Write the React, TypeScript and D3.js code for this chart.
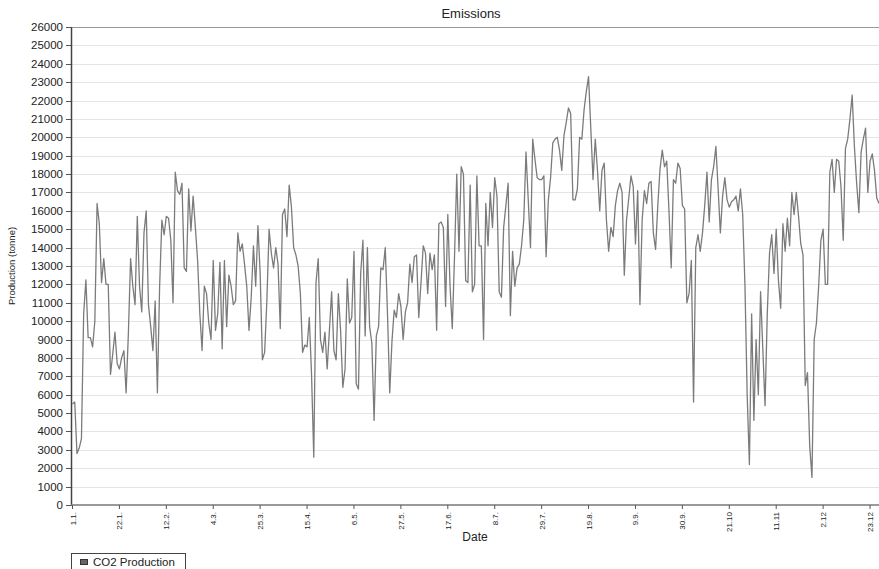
import React from "react";
import * as d3 from "d3";

const startDate = new Date(Date.UTC(2008, 0, 1));
const tickStepDays = 21;
const tickCount = 18;
const yTicks = d3.range(0, 26001, 1000);

// Daily CO2 production (tonne), from 1.1. onwards
const co2Production = [
  5500, 5600, 2800, 3100, 3600, 10400, 12250, 9100, 9100, 8600,
  10000, 16400, 15300, 12100, 13400, 12000, 12000, 7100, 8200, 9400,
  7700, 7400, 8000, 8400, 6100, 9300, 13400, 11900, 10900, 15700,
  11900, 10500, 14800, 16000, 10900, 9700, 8400, 11100, 6100, 11900,
  15500, 14700, 15700, 15600, 14400, 11000, 18100, 17100, 16900, 17500,
  12900, 12700, 17200, 14900, 16800, 15100, 13300, 10400, 8400, 11900,
  11500, 9900, 9000, 13300, 9500, 10400, 13200, 8500, 13300, 9700,
  12500, 11900, 10900, 11100, 14800, 13800, 14200, 13100, 11900, 9500,
  11300, 14100, 11900, 15200, 12600, 7900, 8300, 11100, 15000, 13700,
  12900, 14000, 13100, 9600, 15800, 16100, 14600, 17400, 16200, 14000,
  13600, 13000, 11500, 8300, 8700, 8600, 10200, 7100, 2600, 12100,
  13400, 9000, 8300, 9400, 7400, 9500, 11600, 8400, 7900, 11500,
  9500, 6400, 7400, 12300, 9900, 10200, 13800, 6600, 6300, 12600,
  14400, 9200, 14000, 9700, 8800, 4600, 9200, 9700, 12900, 12800,
  14000, 10400, 6100, 8900, 10600, 10200, 11500, 10800, 9000, 10500,
  11000, 13100, 12100, 13500, 13600, 10200, 12100, 14100, 13700, 11500,
  13700, 12800, 13600, 9500, 15300, 15400, 15100, 10800, 15800, 11900,
  9600, 13500, 18000, 13800, 18400, 18000, 12200, 12100, 17400, 11600,
  12000, 17900, 14100, 14100, 9000, 16400, 14100, 17000, 15100, 17800,
  16800, 11600, 11300, 15100, 16300, 17500, 10300, 13800, 11900, 12900,
  13100, 14100, 15500, 19200, 16600, 14000, 19900, 18800, 17800, 17700,
  17700, 17900, 13500, 16600, 17800, 19700, 19900, 20000, 19300, 18200,
  20100, 20800, 21600, 21300, 16600, 16600, 17200, 20000, 19900, 21500,
  22500, 23300, 20500, 17700, 19900, 18200, 16000, 18200, 18600, 15500,
  13800, 15100, 14600, 16300, 17100, 17500, 17000, 12500, 15500, 16700,
  17900, 17300, 14200, 17100, 10900, 15500, 17100, 16400, 17500, 17600,
  14800, 13900, 16300, 18300, 19300, 18400, 18700, 16000, 12900, 17700,
  17500, 18600, 18300, 16300, 16100, 11000, 11500, 13300, 5600, 14000,
  14700, 13800, 14800, 16300, 18100, 15400, 17700, 18400, 19500, 17200,
  14800, 16800, 17800, 16600, 16200, 16500, 16600, 16800, 16000, 17200,
  15800, 12000, 6000, 2200, 10400, 4600, 9000, 6000, 11600, 8500,
  5400, 10400, 13700, 14700, 12600, 15000, 12200, 10700, 15300, 13800,
  15600, 14100, 17000, 15800, 17000, 15700, 14200, 13600, 6500, 7200,
  3200, 1500, 9000, 9900, 11900, 14400, 15000, 12000, 12000, 18100,
  18800, 17000, 18800, 18700, 17300, 14400, 19400, 19900, 21000, 22300,
  19500, 17500, 15900, 19200, 19900, 20500, 17000, 18700, 19100, 18200,
  16700, 16400,
];

const W = 879;
const H = 569;
const FONT = "'Liberation Sans', Arial, sans-serif";

const dayMs = 86400000;
const dateOf = (i: number) => new Date(startDate.getTime() + i * dayMs);

export default function App() {
  const x0 = 72.5;
  const pxPerDay = 2.234;
  const xScale = d3
    .scaleUtc()
    .domain([startDate, dateOf(365)])
    .range([x0, x0 + 365 * pxPerDay]);
  const yScale = d3.scaleLinear().domain([0, 26000]).range([505, 27]);

  const xTicks = d3.range(tickCount).map((k) => dateOf(k * tickStepDays));
  const fmtFull = d3.utcFormat("%-d.%-m.");
  const fmt = (d: Date) => fmtFull(d).slice(0, 5).replace(/^(\d+\.\d\d)\.$/, "$1");

  const line = d3
    .line<number>()
    .x((_, i) => xScale(dateOf(i)))
    .y((v) => yScale(v));

  const axisX = 71.5;
  const right = W;

  return (
    <svg
      width={W}
      height={H}
      style={{ position: "absolute", left: 0, top: 0, background: "#fff" }}
      fontFamily={FONT}
    >
      <defs>
        <clipPath id="plotclip">
          <rect x={axisX} y={20} width={right - axisX} height={490} />
        </clipPath>
      </defs>
      {/* gridlines */}
      {yTicks.map((t) => (
        <line
          key={"g" + t}
          x1={axisX}
          x2={right}
          y1={Math.round(yScale(t)) + 0.5}
          y2={Math.round(yScale(t)) + 0.5}
          stroke={t === 26000 ? "#9a9a9a" : "#e4e4e4"}
          strokeWidth={t === 26000 ? 1.2 : 1}
        />
      ))}
      {/* y ticks and labels */}
      {yTicks.map((t) => (
        <g key={"y" + t}>
          <line
            x1={66}
            x2={axisX}
            y1={Math.round(yScale(t)) + 0.5}
            y2={Math.round(yScale(t)) + 0.5}
            stroke="#555"
          />
          <text
            x={63}
            y={yScale(t)}
            dy="0.35em"
            textAnchor="end"
            fontSize={11.5}
            fill="#222"
          >
            {t}
          </text>
        </g>
      ))}
      {/* data line */}
      <path
        d={line(co2Production) || ""}
        fill="none"
        stroke="#7b7b7b"
        strokeWidth={1.3}
        strokeLinejoin="round"
        clipPath="url(#plotclip)"
      />
      {/* y axis */}
      <line x1={axisX} x2={axisX} y1={27} y2={506} stroke="#444" strokeWidth={1.5} />
      {/* x axis */}
      <line x1={axisX} x2={right} y1={505} y2={505} stroke="#9a9a9a" strokeWidth={2} />
      {xTicks.map((d, i) => {
        const x = xScale(d);
        return (
          <g key={"x" + i}>
            <line x1={x} x2={x} y1={505} y2={509} stroke="#555" />
            <text
              transform={`translate(${x + 3},${512}) rotate(-90)`}
              textAnchor="end"
              fontSize={8}
              fill="#222"
            >
              {fmt(d)}
            </text>
          </g>
        );
      })}
      {/* titles */}
      <text x={471} y={18} textAnchor="middle" fontSize={13} fill="#222">
        Emissions
      </text>
      <text x={475} y={541} textAnchor="middle" fontSize={12} fill="#222">
        Date
      </text>
      <text
        transform={`translate(15,266) rotate(-90)`}
        textAnchor="middle"
        fontSize={9.5}
        fill="#222"
      >
        Production (tonne)
      </text>
      {/* legend */}
      <rect x={71.5} y={553.5} width={114} height={20} fill="#fff" stroke="#444" />
      <rect x={80.5} y={559.5} width={7} height={5} fill="#666" stroke="#333" />
      <text x={93} y={566} fontSize={11.5} fill="#222">
        CO2 Production
      </text>
    </svg>
  );
}
